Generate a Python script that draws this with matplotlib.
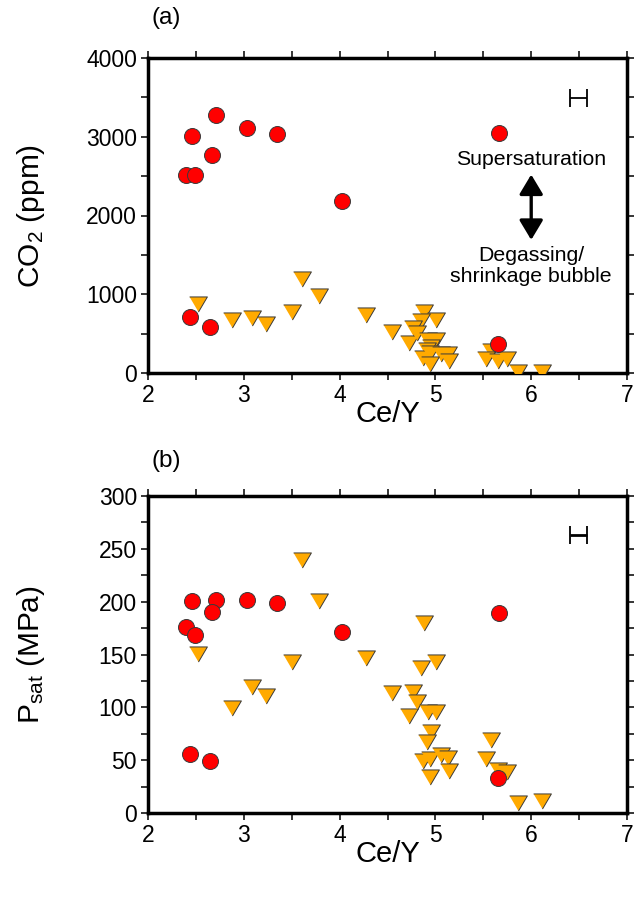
import matplotlib
matplotlib.use("Agg")
import matplotlib.pyplot as plt
from matplotlib.ticker import MultipleLocator
import numpy as np

plt.rcParams['font.family'] = ['Liberation Sans', 'DejaVu Sans']
plt.rcParams['mathtext.fontset'] = 'custom'
plt.rcParams['mathtext.rm'] = 'Liberation Sans'
plt.rcParams['mathtext.it'] = 'Liberation Sans:italic'

# Red circles (Ce/Y, CO2 ppm, Psat MPa)
circ_cey = [2.71, 2.46, 2.67, 3.03, 3.35, 2.40, 2.49, 4.03, 2.44, 2.65, 5.66, 5.65]
circ_co2 = [3280, 3010, 2770, 3107, 3040, 2515, 2515, 2180, 715, 588, 3050, 366]
circ_psat = [202, 200.6, 190.5, 202, 199, 175.7, 168.4, 171, 55.5, 49.5, 189, 32.8]

# Orange triangles
tri_cey = [2.52, 2.88, 3.09, 3.23, 3.50, 3.61, 3.78, 4.28, 4.55, 4.72,
           4.88, 5.01, 4.85, 4.77, 4.81, 4.92, 5.01, 4.95, 4.91, 4.87,
           4.94, 5.06, 5.13, 5.14, 4.94, 5.58, 5.53, 5.65, 5.75, 5.86, 6.11]
tri_co2 = [872, 673, 703, 618, 779, 1198, 982, 741, 515, 380,
           770, 678, 660, 570, 504, 425, 425, 330, 295, 190,
           250, 237, 237, 149, 118, 277, 182, 156, 182, 16, 16]
tri_psat = [150.5, 99.4, 119.2, 111.0, 143.2, 239.7, 200.6, 146.7, 113.6, 92,
            180.2, 143.2, 136.8, 114.8, 105.2, 95.5, 95.5, 77, 66.8, 49,
            51.4, 55.2, 52.5, 40.0, 33.6, 69.1, 51.2, 41.0, 39.0, 9.8, 11.5]

# Representative error bar (Ce/Y)
err_x = 6.49
err_dx = 0.09
err_co2 = 3490
err_psat = 263

tri_marker = [(-1, 0.85), (1, 0.85), (0, -0.85)]

fig = plt.figure(figsize=(6.37, 9.11), dpi=100)
ax1 = fig.add_axes([148/637, 1-373/911, 479/637, 315/911])
ax2 = fig.add_axes([148/637, 1-813/911, 479/637, 317/911])

red = '#ff0000'
orange = '#ffaa00'
edge = '#3a3a3a'

for ax, cy, ty, ey in [(ax1, circ_co2, tri_co2, err_co2), (ax2, circ_psat, tri_psat, err_psat)]:
    ax.plot(tri_cey, ty, linestyle='none', marker=tri_marker, markersize=12.8,
            markerfacecolor=orange, markeredgecolor=edge, markeredgewidth=0.7, zorder=3)
    ax.plot(circ_cey, cy, linestyle='none', marker='o', markersize=11.5,
            markerfacecolor=red, markeredgecolor=edge, markeredgewidth=0.7, zorder=4)
    ax.errorbar([err_x], [ey], xerr=[err_dx], fmt='none', ecolor='black',
                elinewidth=1.3 if ax is ax1 else 2.0, capsize=6.8, capthick=1.3)
    ax.set_xlim(2, 7)
    ax.xaxis.set_major_locator(MultipleLocator(1))
    ax.xaxis.set_minor_locator(MultipleLocator(0.5))
    for s in ax.spines.values():
        s.set_linewidth(2.5)
    ax.tick_params(which='both', direction='out', length=5, width=1.1,
                   top=True, right=True, labelsize=16.5, pad=3)
    ax.set_xlabel('Ce/Y', fontsize=21, labelpad=0)
    ax.xaxis.set_label_coords(0.5, -0.085)

ax1.set_ylim(0, 4000)
ax1.yaxis.set_major_locator(MultipleLocator(1000))
ax1.yaxis.set_minor_locator(MultipleLocator(500))
ax1.set_ylabel('CO$_2$ (ppm)', fontsize=21.5)
ax1.yaxis.set_label_coords(-0.21, 0.5)

ax2.set_ylim(0, 300)
ax2.yaxis.set_major_locator(MultipleLocator(50))
ax2.yaxis.set_minor_locator(MultipleLocator(25))
ax2.set_ylabel('P$_{\\mathrm{sat}}$ (MPa)', fontsize=21.5)
ax2.yaxis.set_label_coords(-0.21, 0.5)

# Annotation in panel (a)
ax1.text(6.0, 2705, 'Supersaturation', ha='center', va='center', fontsize=15.3)
ax1.text(6.0, 1355, 'Degassing/\nshrinkage bubble', ha='center', va='center',
         fontsize=15.3, linespacing=1.15)
ax1.annotate('', xy=(6.0, 1690), xytext=(6.0, 2520),
             arrowprops=dict(arrowstyle='<|-|>,head_length=0.5,head_width=0.3',
                             color='black', lw=2.4,
                             mutation_scale=24, shrinkA=0, shrinkB=0))

fig.text(166/637, 1-18/911, '(a)', ha='center', va='center', fontsize=17.5)
fig.text(166/637, 1-461/911, '(b)', ha='center', va='center', fontsize=17.5)

fig.savefig('out.png', dpi=100)
